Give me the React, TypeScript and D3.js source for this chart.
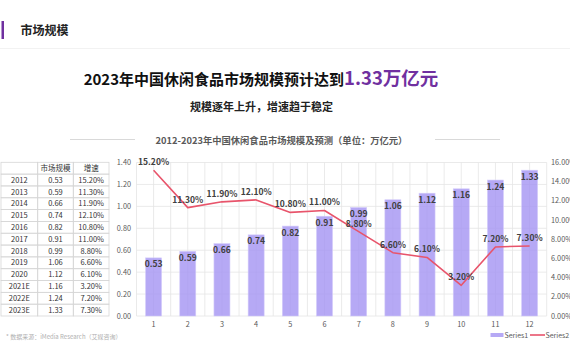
import React from 'react';
import * as d3 from 'd3';

// Data

const years = ['2012', '2013', '2014', '2015', '2016', '2017', '2018', '2019', '2020', '2021E', '2022E', '2023E'];
const categories = ['1', '2', '3', '4', '5', '6', '7', '8', '9', '10', '11', '12'];
const marketSize = [0.53, 0.59, 0.66, 0.74, 0.82, 0.91, 0.99, 1.06, 1.12, 1.16, 1.24, 1.33];
const growth = [15.2, 11.3, 11.9, 12.1, 10.8, 11.0, 8.8, 6.6, 6.1, 3.2, 7.2, 7.3];
const leftTicks = [0, 0.2, 0.4, 0.6, 0.8, 1.0, 1.2, 1.4];
const rightTicks = [0, 2, 4, 6, 8, 10, 12, 14, 16];
const tableHead = ['', '市场规模', '增速'];

const FONT = '"Noto Sans CJK SC", "Noto Sans", sans-serif';
const BAR = '#a494f2';
const LINE = '#e8546b';
const GRID = '#e4e4e4';

function App() {
    const W = 570;
    const H = 360;

    const x = d3.scaleBand<string>().domain(categories).range([136.5, 546.7]);
    const bw = x.bandwidth();
    const yL = d3.scaleLinear().domain([0, 1.4]).range([316, 162.5]);
    const yR = d3.scaleLinear().domain([0, 16]).range([316, 162.5]);

    const line = d3.line<number>()
        .x((_, i) => (x(categories[i]) as number) + bw / 2)
        .y((d) => yR(d));

    // grid at band edges and band centers
    const vGrid: number[] = [];
    categories.forEach((c) => {
        vGrid.push(x(c) as number);
        vGrid.push((x(c) as number) + bw / 2);
    });
    vGrid.push(546.7);

    // table layout
    const tX = [1, 37.7, 73.3, 109];
    const tTop = 162.3;
    const rowH = (316 - tTop) / 13;
    const rows = [tableHead, ...years.map((y, i) => [y, marketSize[i].toFixed(2), growth[i].toFixed(2) + '%'])];

    return (
        <svg width={W} height={H} style={{ position: 'absolute', left: 0, top: 0, background: '#fff' }} fontFamily={FONT}>
            {/* header */}
            <rect x={1.5} y={21} width={2.5} height={18} fill="#7030a0" />
            <text x={20.5} y={35} fontSize={12} fontWeight={700} fill="#222">市场规模</text>
            <line x1={0} x2={W} y1={48.5} y2={48.5} stroke="#f2f2f2" />

            {/* titles */}
            <text x={261} y={85} textAnchor="middle" fontWeight={700} fill="#111">
                <tspan fontSize={15}>2023年中国休闲食品市场规模预计达到</tspan>
                <tspan fontSize={18.5} fill="#7030a0">1.33万亿元</tspan>
            </text>
            <text x={261.5} y={111} textAnchor="middle" fontSize={11} fontWeight={700} fill="#222">规模逐年上升，增速趋于稳定</text>

            <line x1={70} x2={135} y1={139.5} y2={139.5} stroke="#d9d9d9" />
            <line x1={435} x2={500} y1={139.5} y2={139.5} stroke="#d9d9d9" />
            <text x={281.5} y={143.5} textAnchor="middle" fontSize={9.3} fontWeight={700} fill="#595959">
                2012-2023年中国休闲食品市场规模及预测（单位：万亿元）
            </text>

            {/* table */}
            <g fontSize={7.5} fill="#333">
                {rows.map((r, ri) => (
                    <g key={ri}>
                        {r.map((cell, ci) => (
                            <g key={ci}>
                                <rect x={tX[ci]} y={tTop + ri * rowH} width={tX[ci + 1] - tX[ci]} height={rowH}
                                    fill="none" stroke="#d6d6d6" strokeWidth={0.8} />
                                <text x={(tX[ci] + tX[ci + 1]) / 2} y={tTop + ri * rowH + rowH / 2 + 2.7} textAnchor="middle">{cell}</text>
                            </g>
                        ))}
                    </g>
                ))}
            </g>

            {/* grid */}
            <g stroke={GRID} strokeWidth={0.8}>
                {leftTicks.map((t) => (
                    <line key={t} x1={136.5} x2={546.7} y1={yL(t)} y2={yL(t)} />
                ))}
                {vGrid.map((v, i) => (
                    <line key={i} x1={v} x2={v} y1={162.5} y2={316} />
                ))}
            </g>

            {/* axes labels */}
            <g fontSize={7.3} fill="#595959">
                {leftTicks.map((t) => (
                    <text key={t} x={131} y={yL(t) + 2.5} textAnchor="end">{t.toFixed(2)}</text>
                ))}
                {rightTicks.map((t) => (
                    <text key={t} x={551} y={yR(t) + 2.5}>{t.toFixed(2) + '%'}</text>
                ))}
                {categories.map((c) => (
                    <text key={c} x={(x(c) as number) + bw / 2} y={327} textAnchor="middle">{c}</text>
                ))}
            </g>

            {/* bars */}
            {marketSize.map((v, i) => {
                const cx = (x(categories[i]) as number) + bw / 2;
                return (
                    <rect key={i} x={cx - 8} y={yL(v)} width={16} height={316 - yL(v)}
                        fill={BAR} fillOpacity={0.8} stroke="#d4ccfa" strokeWidth={0.6} />
                );
            })}

            {/* line */}
            <path d={line(growth) as string} fill="none" stroke={LINE} strokeWidth={1.6} strokeLinejoin="round" />

            {/* labels */}
            <g fontSize={8.5} fontWeight={700} fill="#404040" textAnchor="middle">
                {marketSize.map((v, i) => (
                    <text key={i} x={(x(categories[i]) as number) + bw / 2} y={yL(v) + 9.5}>{v.toFixed(2)}</text>
                ))}
                {growth.map((v, i) => (
                    <text key={i} x={(x(categories[i]) as number) + bw / 2} y={yR(v) - 5}>{v.toFixed(2) + '%'}</text>
                ))}
            </g>

            {/* legend */}
            <rect x={490.5} y={333} width={13} height={4} fill={BAR} fillOpacity={0.8} />
            <text x={504.5} y={337.8} fontSize={7} fill="#595959">Series1</text>
            <line x1={530} x2={545} y1={335} y2={335} stroke={LINE} strokeWidth={1.6} />
            <text x={545.5} y={337.8} fontSize={7} fill="#595959">Series2</text>

            {/* source */}
            <text x={6} y={339} fontSize={6} fill="#b0b0b0">* 数据来源：iMedia Research（艾媒咨询）</text>
        </svg>
    );
}

export default App;
